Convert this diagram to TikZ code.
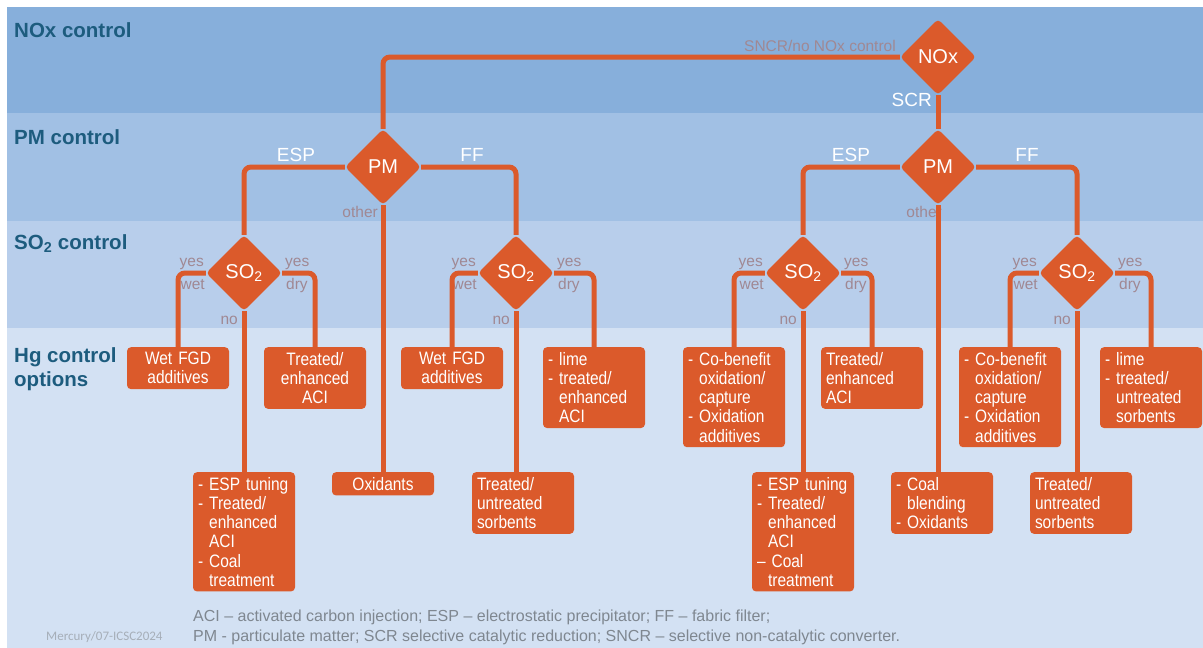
\documentclass[tikz,border=0pt]{standalone}
\usepackage{fontspec}
\setmainfont{Liberation Sans}
\newfontfamily\narrowfont[FakeStretch=0.86]{Liberation Sans}
\newfontfamily\markfont{Carlito}
\usetikzlibrary{shapes.geometric}

\definecolor{hgorange}{HTML}{DB5A2B}
\definecolor{bandA}{HTML}{87AFDB}
\definecolor{bandB}{HTML}{A1C0E4}
\definecolor{bandC}{HTML}{B8CEEB}
\definecolor{bandD}{HTML}{D3E1F3}
\definecolor{headblue}{HTML}{1D5C7E}
\definecolor{labgrey}{HTML}{A08893}
\definecolor{footgrey}{HTML}{7F8790}
\definecolor{markgrey}{HTML}{A6AEB8}
\newcommand\hsp{\phantom{- }}
\newcommand\nohy{\hyphenpenalty=10000\relax\exhyphenpenalty=10000\relax}

\begin{document}
\begin{tikzpicture}[x=1pt,y=-1pt,
	link/.style={draw=hgorange,line width=5pt,rounded corners=7pt},
	dec/.style={diamond,fill=hgorange,rounded corners=4pt,minimum width=76pt,minimum height=76pt,inner sep=0pt,text=white,font=\fontsize{20}{22}\selectfont},
	opt/.style={fill=hgorange,rounded corners=4pt,text=white,text width=92pt,inner xsep=5pt,inner ysep=5pt,anchor=north,align=left,font=\narrowfont\fontsize{18}{19.2}\selectfont},
	head/.style={text=headblue,font=\bfseries\fontsize{20.5}{24}\selectfont,anchor=west,inner sep=0pt,align=left},
	yn/.style={text=labgrey,font=\fontsize{15.5}{16}\selectfont,inner sep=0pt},
	br/.style={text=white,font=\fontsize{19}{20}\selectfont,inner sep=0pt}]

\useasboundingbox (0,0) rectangle (1203,648);
\fill[white] (0,0) rectangle (1203,648);

%bands
\fill[bandA] (7,7) rectangle (1203,113);
\fill[bandB] (7,113) rectangle (1203,221);
\fill[bandC] (7,221) rectangle (1203,328);
\fill[bandD] (7,328) rectangle (1203,648);

\node[head] (T1) at (14,30) {NOx control};
\node[head] (T2) at (14,137) {PM control};
\node[head] (T3) at (14,244) {SO\textsubscript{2} control};
\node[head,anchor=north west] (T4) at (14,347) {Hg control\\options};

%branch labels
\node[yn,anchor=east] (L1) at (896,46) {SNCR/no NOx control};
\node[br,anchor=east] (L2) at (932,100) {SCR};
\node[br] (L3) at (296,155) {ESP};
\node[br] (L4) at (472,155) {FF};
\node[br] (L5) at (851,155) {ESP};
\node[br] (L6) at (1027,155) {FF};
\node[yn,anchor=east] (L7) at (378,212) {other};
\node[yn,anchor=east] (L8) at (942,212) {other};

\foreach \cx/\n in {244/a,516/b,803/c,1077/d}{
	\node[yn,anchor=east] (Y\n) at (\cx-40,264) {yes};
	\node[yn,anchor=east] (W\n) at (\cx-39,285) {wet};
	\node[yn,anchor=west] (Z\n) at (\cx+41,264) {yes};
	\node[yn,anchor=west] (D\n) at (\cx+42,285) {dry};
	\node[yn,anchor=east] (N\n) at (\cx-6,320) {no};
}

%decisions
\node[dec] (NOx) at (938,57) {NOx};
\node[dec] (PMa) at (383,167) {PM};
\node[dec] (PMb) at (938,167) {PM};
\node[dec] (SOa) at (244,273) {SO\textsubscript{2}};
\node[dec] (SOb) at (516,273) {SO\textsubscript{2}};
\node[dec] (SOc) at (803,273) {SO\textsubscript{2}};
\node[dec] (SOd) at (1077,273) {SO\textsubscript{2}};

%Hg options
\node[opt,align=center] (FGD1) at (178,347) {Wet FGD\\additives};
\node[opt,align=center] (ACI1) at (315,347) {Treated/\\enhanced\\ACI};
\node[opt] (ESP1) at (244,472) {\nohy- ESP tuning\\- Treated/\\\hsp enhanced\\\hsp ACI\\- Coal\\\hsp treatment};
\node[opt,align=center] (OXI1) at (383,472) {Oxidants};
\node[opt,align=center] (FGD2) at (452,347) {Wet FGD\\additives};
\node[opt] (LIME1) at (594,347) {- lime\\- treated/\\\hsp enhanced\\\hsp ACI};
\node[opt] (SORB1) at (523,472) {Treated/\\untreated\\sorbents};

\node[opt] (COB1) at (734,347) {\nohy- Co-benefit\\\hsp oxidation/\\\hsp capture\\- Oxidation\\\hsp additives};
\node[opt] (ACI2) at (872,347) {Treated/\\enhanced\\ACI};
\node[opt] (ESP2) at (803,472) {\nohy- ESP tuning\\- Treated/\\\hsp enhanced\\\hsp ACI\\– Coal\\\hsp treatment};
\node[opt] (COAL) at (942,472) {- Coal\\\hsp blending\\- Oxidants};
\node[opt] (COB2) at (1010,347) {\nohy- Co-benefit\\\hsp oxidation/\\\hsp capture\\- Oxidation\\\hsp additives};
\node[opt] (LIME2) at (1151,347) {- lime\\- treated/\\\hsp untreated\\\hsp sorbents};
\node[opt] (SORB2) at (1081,472) {Treated/\\untreated\\sorbents};

%connectors
\draw[link] (NOx.west) -| (PMa.north);
\draw[link] (NOx.south) -- (PMb.north);

\draw[link] (PMa.west) -| (SOa.north);
\draw[link] (PMa.east) -| (SOb.north);
\draw[link] (PMa.south) -- (OXI1.north);
\draw[link] (PMb.west) -| (SOc.north);
\draw[link] (PMb.east) -| (SOd.north);
\draw[link] (PMb.south) -- (PMb.south |- COAL.north);

\draw[link] (SOa.west) -| (FGD1.north);
\draw[link] (SOa.east) -| (ACI1.north);
\draw[link] (SOa.south) -- (ESP1.north);
\draw[link] (SOb.west) -| (FGD2.north);
\draw[link] (SOb.east) -| (LIME1.north);
\draw[link] (SOb.south) -- (SOb.south |- SORB1.north);

\draw[link] (SOc.west) -| (COB1.north);
\draw[link] (SOc.east) -| (ACI2.north);
\draw[link] (SOc.south) -- (ESP2.north);
\draw[link] (SOd.west) -| (COB2.north);
\draw[link] (SOd.east) -| (LIME2.north);
\draw[link] (SOd.south) -- (SOd.south |- SORB2.north);

%footer
\node[text=footgrey,anchor=west,inner sep=0pt,align=left,font=\fontsize{16}{20}\selectfont] (F1) at (193,627)
	{ACI – activated carbon injection; ESP – electrostatic precipitator; FF – fabric filter;\\PM - particulate matter; SCR selective catalytic reduction; SNCR – selective non-catalytic converter.};
\node[text=markgrey,anchor=west,inner sep=0pt,font=\markfont\fontsize{13}{15}\selectfont] (F2) at (46,637) {Mercury/07-ICSC2024};

\end{tikzpicture}
\end{document}
